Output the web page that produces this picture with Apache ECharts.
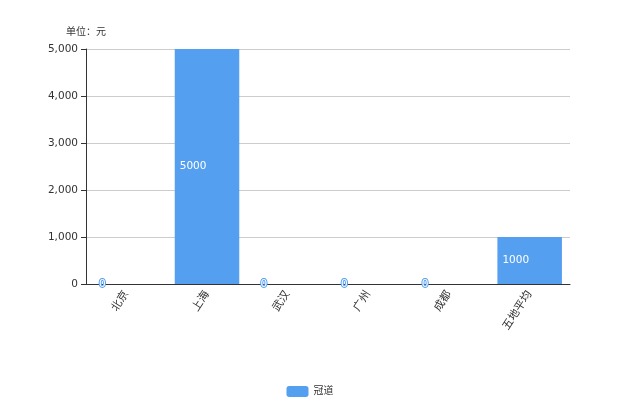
<!DOCTYPE html>
<html><head><meta charset="utf-8">
<script src="https://cdn.jsdelivr.net/npm/echarts@6/dist/echarts.min.js"></script>
<style>html,body{margin:0;padding:0;background:#fff}#c{width:620px;height:413px}</style>
</head><body><div id="c"></div>
<script>
var categories = ['北京', '上海', '武汉', '广州', '成都', '五地平均'];
var seriesName = '冠道';
var values = [0, 5000, 0, 0, 0, 1000];
var unitLabel = '单位：元';

var FONT = '"DejaVu Sans", "Noto Sans CJK SC", sans-serif';
var chart = echarts.init(document.getElementById('c'));
chart.setOption({
  animation: false,
  color: ['#559ff0'],
  textStyle: { fontFamily: FONT },
  grid: { left: 86, right: 50, top: 49, bottom: 129 },
  legend: {
    bottom: 11, left: 'center', itemWidth: 22, itemHeight: 11,
    icon: 'roundRect',
    textStyle: { color: '#333', fontSize: 10, fontFamily: FONT },
    data: [seriesName]
  },
  xAxis: {
    type: 'category', data: categories,
    axisLine: { lineStyle: { color: '#333' } },
    axisTick: { show: false },
    axisLabel: { rotate: 57, color: '#333', fontSize: 11, interval: 0, fontFamily: FONT }
  },
  yAxis: {
    type: 'value', name: unitLabel, min: 0, max: 5000, interval: 1000,
    nameTextStyle: { color: '#333', fontSize: 10, align: 'center', fontFamily: FONT },
    nameGap: 12,
    axisLine: { show: true, lineStyle: { color: '#333' } },
    axisTick: { show: true },
    axisLabel: { color: '#333', fontSize: 10.5, fontFamily: FONT },
    splitLine: { lineStyle: { color: '#ccc' } }
  },
  series: [{
    name: seriesName, type: 'bar', data: values, barWidth: '80%',
    label: { show: true, position: 'insideLeft', fontSize: 10.5, fontFamily: FONT,
      color: '#fff', textBorderColor: '#559ff0', textBorderWidth: 2 }
  }]
});
</script></body></html>
